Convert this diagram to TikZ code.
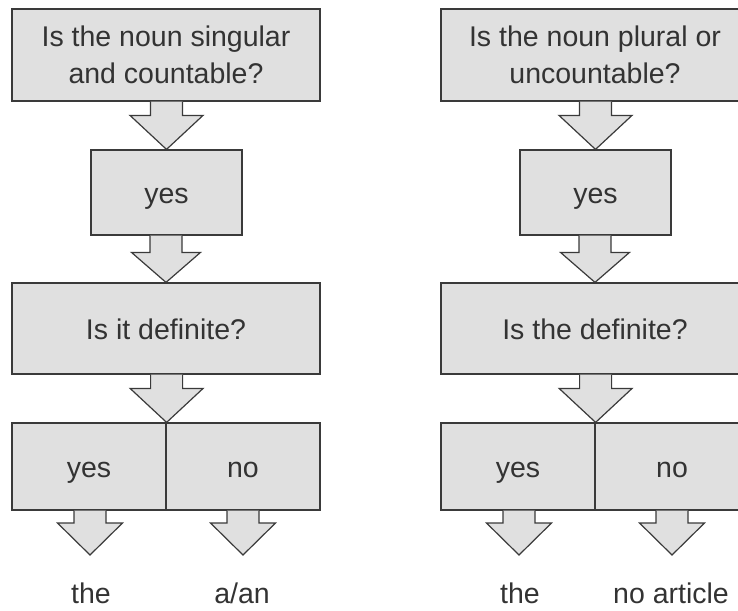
\documentclass[tikz,border=0pt]{standalone}
\usepackage{fontspec}
\setmainfont{Liberation Sans}
\usetikzlibrary{calc}
\definecolor{boxfill}{HTML}{E0E0E0}
\definecolor{boxline}{HTML}{3A3A3A}
\definecolor{txt}{HTML}{333333}
\tikzset{
  box/.style={draw=boxline, fill=boxfill, line width=1.2pt, inner sep=0pt,
    text=txt, font=\fontsize{28.5}{36.6}\selectfont},
  one/.style={text height=28.5pt, text depth=6pt},
  two/.style={text height=0pt, text depth=16.6pt},
  lbl/.style={inner sep=0pt, anchor=base, text=txt, font=\fontsize{28.5}{36.6}\selectfont},
  arr/.style={draw=boxline, fill=boxfill, line width=1.2pt, line join=miter}
}
% #1 start, #2 tip, #3 head half width, #4 head length
\newcommand\barrow[4]{%
  \draw[arr] let \p1=(#1), \p2=(#2) in
    (\x2-16pt,\y1) -- (\x2-16pt,\y2+#4pt) -- (\x2-#3pt,\y2+#4pt) -- (\x2,\y2)
    -- (\x2+#3pt,\y2+#4pt) -- (\x2+16pt,\y2+#4pt) -- (\x2+16pt,\y1);}
\newcommand\twoline[2]{\begin{tabular}[t]{@{}c@{}}#1\\#2\end{tabular}}
\begin{document}
\begin{tikzpicture}[x=1pt,y=-1pt]
\useasboundingbox (0,0) rectangle (738,610);
\clip (0,0) rectangle (738,610);
% ---------- left column ----------
\node[box, two, minimum width=308, minimum height=92] (q1L) at (166,55) {\twoline{Is the noun singular}{and countable?}};
\node[box, one, minimum width=151, minimum height=85] (y1L) at (166.5,192.5) {yes};
\node[box, one, minimum width=308, minimum height=91] (q2L) at (166,328.5) {Is it definite?};
\node[box, one, minimum width=154, minimum height=87] (yesL) at (89,466.5) {yes};
\node[box, one, minimum width=154, minimum height=87] (noL) at (243,466.5) {no};
\coordinate (tyL) at (90,555);
\coordinate (tnL) at (243,555);
\node[lbl] (theL) at (91,603) {the};
\node[lbl] (aanL) at (242,603) {a/an};
\barrow{q1L.south}{y1L.north}{36.5}{34}
\barrow{y1L.south}{q2L.north}{34.5}{30}
\barrow{q2L.south}{yesL.north east}{36.5}{34}
\barrow{yesL.south}{tyL}{32.5}{32}
\barrow{noL.south}{tnL}{32.5}{32}
% ---------- right column ----------
\node[box, two, minimum width=308, minimum height=92] (q1R) at (595,55) {\twoline{Is the noun plural or}{uncountable?}};
\node[box, one, minimum width=151, minimum height=85] (y1R) at (595.5,192.5) {yes};
\node[box, one, minimum width=308, minimum height=91] (q2R) at (595,328.5) {Is the definite?};
\node[box, one, minimum width=154, minimum height=87] (yesR) at (518,466.5) {yes};
\node[box, one, minimum width=154, minimum height=87] (noR) at (672,466.5) {no};
\coordinate (tyR) at (519,555);
\coordinate (tnR) at (672,555);
\node[lbl] (theR) at (520,603) {the};
\node[lbl] (naR) at (671,603) {no article};
\barrow{q1R.south}{y1R.north}{36.5}{34}
\barrow{y1R.south}{q2R.north}{34.5}{30}
\barrow{q2R.south}{yesR.north east}{36.5}{34}
\barrow{yesR.south}{tyR}{32.5}{32}
\barrow{noR.south}{tnR}{32.5}{32}
\end{tikzpicture}
\end{document}
